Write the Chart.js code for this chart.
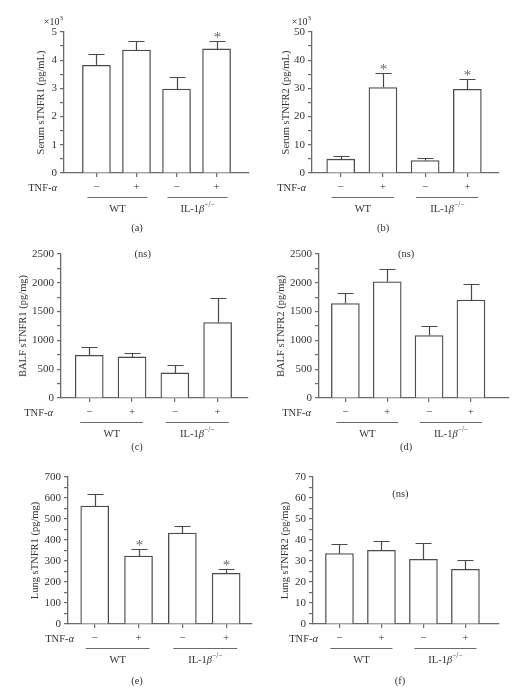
<!DOCTYPE html>
<html>
<head>
<meta charset="utf-8">
<script src="https://cdn.jsdelivr.net/npm/chart.js@4.4.1/dist/chart.umd.min.js"></script>
<style>
  body { margin: 0; background: #fff; width: 526px; height: 691px; position: relative; overflow: hidden; }
  canvas { position: absolute; }
</style>
</head>
<body>
<canvas id="pa" width="263" height="240" style="left:0;top:0"></canvas>
<canvas id="pb" width="263" height="240" style="left:263px;top:0"></canvas>
<canvas id="pc" width="263" height="240" style="left:0;top:230px"></canvas>
<canvas id="pd" width="263" height="240" style="left:263px;top:230px"></canvas>
<canvas id="pe" width="263" height="231" style="left:0;top:460px"></canvas>
<canvas id="pf" width="263" height="231" style="left:263px;top:460px"></canvas>
<script>
// categories: TNF-a treatment inside each genotype
const tnfSigns = ['−', '+', '−', '+'];
const genotypes = ['WT', 'IL-1β'];
const catPos = [1, 2, 3, 4];

// (a) serum sTNFR1 (x10^3 pg/mL)
const serumR1Mean = [3.82, 4.36, 2.98, 4.40];
const serumR1Sem = [0.39, 0.32, 0.43, 0.28];
const serumR1Star = [false, false, false, true];
const serumR1Ticks = [0, 1, 2, 3, 4, 5];

// (b) serum sTNFR2 (x10^3 pg/mL)
const serumR2Mean = [4.9, 30.3, 4.4, 29.7];
const serumR2Sem = [1.1, 5.0, 0.8, 3.7];
const serumR2Star = [false, true, false, true];
const serumR2Ticks = [0, 10, 20, 30, 40, 50];

// (c) BALF sTNFR1 (pg/mg)
const balfR1Mean = [742, 713, 435, 1311];
const balfR1Sem = [145, 70, 145, 418];
const balfR1Star = [false, false, false, false];
const balfR1Ticks = [0, 500, 1000, 1500, 2000, 2500];

// (d) BALF sTNFR2 (pg/mg)
const balfR2Mean = [1641, 2019, 1085, 1700];
const balfR2Sem = [175, 220, 162, 280];
const balfR2Star = [false, false, false, false];
const balfR2Ticks = [0, 500, 1000, 1500, 2000, 2500];

// (e) lung sTNFR1 (pg/mg)
const lungR1Mean = [562, 324, 433, 241];
const lungR1Sem = [58, 33, 35, 21];
const lungR1Star = [false, true, false, true];
const lungR1Ticks = [0, 100, 200, 300, 400, 500, 600, 700];

// (f) lung sTNFR2 (pg/mg)
const lungR2Mean = [33.5, 35.1, 30.8, 26.0];
const lungR2Sem = [4.4, 4.4, 7.9, 4.6];
const lungR2Star = [false, false, false, false];
const lungR2Ticks = [0, 10, 20, 30, 40, 50, 60, 70];

const FONT = "'Liberation Serif', 'DejaVu Serif', serif";
const INK = '#333';
const AXIS = '#6a6a6a';
const BAR = '#4a4a4a';

// draws text made of parts (italic / superscript), vertically centred on y
function richText(ctx, parts, x, y, align, size) {
    const fontOf = p => (p.it ? 'italic ' : '') + (p.sup ? size * 0.7 : size) + 'px ' + FONT;
    let w = 0;
    const widths = parts.map(p => {
        ctx.font = fontOf(p);
        const mw = ctx.measureText(p.t).width;
        w += mw;
        return mw;
    });
    let cx = align === 'center' ? x - w / 2 : (align === 'right' ? x - w : x);
    ctx.textAlign = 'left';
    ctx.textBaseline = 'middle';
    parts.forEach((p, i) => {
        ctx.font = fontOf(p);
        ctx.fillText(p.t, cx, p.sup ? y - size * 0.38 : y);
        cx += widths[i];
    });
}

const decor = {
    id: 'decor',
    afterDatasetsDraw(chart, args, o) {
        const { ctx, scales: { x, y } } = chart;
        ctx.save();
        ctx.strokeStyle = BAR;
        ctx.lineWidth = 1.2;
        o.mean.forEach((m, i) => {
            const px = Math.round(x.getPixelForValue(catPos[i])) + 0.5;
            const y0 = y.getPixelForValue(m);
            const y1 = Math.round(y.getPixelForValue(m + o.sem[i])) + 0.5;
            ctx.beginPath();
            ctx.moveTo(px, y0);
            ctx.lineTo(px, y1);
            ctx.moveTo(px - 8, y1);
            ctx.lineTo(px + 8, y1);
            ctx.stroke();
            if (o.star[i]) {
                ctx.fillStyle = '#666';
                ctx.font = '15px ' + FONT;
                ctx.textAlign = 'center';
                ctx.textBaseline = 'alphabetic';
                ctx.fillText('*', px, y1);
            }
        });
        ctx.restore();
    },
    afterDraw(chart, args, o) {
        const { ctx, chartArea: area, scales: { x, y } } = chart;
        ctx.save();
        ctx.fillStyle = INK;
        const bottom = area.bottom;
        // TNF-a row label
        richText(ctx, [{ t: 'TNF-' }, { t: 'α', it: true }], area.left + o.tnfX, bottom + 15, 'right', 10.5);
        // genotype lines and labels
        ctx.strokeStyle = AXIS;
        ctx.lineWidth = 1.2;
        genotypes.forEach((g, k) => {
            const xa = x.getPixelForValue(catPos[2 * k]) - 9;
            const xb = x.getPixelForValue(catPos[2 * k + 1]) + 11;
            ctx.beginPath();
            ctx.moveTo(xa, bottom + 24.5);
            ctx.lineTo(xb, bottom + 24.5);
            ctx.stroke();
            const parts = k === 0 ? [{ t: g }] : [{ t: 'IL-1' }, { t: 'β', it: true }, { t: '−/−', sup: true }];
            richText(ctx, parts, (xa + xb) / 2, bottom + 36, 'center', 10.5);
        });
        // panel letter
        richText(ctx, [{ t: o.letter }], o.labelXY[0], o.labelXY[1], 'center', 10.5);
        // multiplier above the axis
        if (o.exp) {
            richText(ctx, [{ t: '×10' }, { t: '3', sup: true }], area.left - 1, area.top - 10, 'right', 10);
        }
        if (o.ns) {
            richText(ctx, [{ t: '(ns)' }], x.getPixelForValue(o.ns[0]), y.getPixelForValue(o.ns[1]), 'center', 10.5);
        }
        ctx.restore();
    }
};

function makePanel(id, p) {
    const cv = document.getElementById(id);
    const W = cv.width, H = cv.height;
    const step = p.ticks[1] - p.ticks[0];
    const yMax = p.ticks[p.ticks.length - 1];
    const X_H = 22;
    new Chart(cv, {
        type: 'bar',
        data: {
            datasets: [{
                data: catPos.map((c, i) => ({ x: c, y: p.mean[i] })),
                backgroundColor: '#fff',
                borderColor: BAR,
                borderWidth: 1.3,
                borderSkipped: 'bottom',
                barThickness: 28
            }]
        },
        options: {
            responsive: false,
            animation: false,
            events: [],
            layout: { padding: { left: 0, top: p.area[2], right: W - p.area[1], bottom: H - p.area[3] - X_H } },
            plugins: {
                legend: { display: false },
                tooltip: { enabled: false },
                decor: { mean: p.mean, sem: p.sem, star: p.star, letter: p.letter, labelXY: p.labelXY, tnfX: p.tnfX, exp: p.exp, ns: p.ns }
            },
            scales: {
                x: {
                    type: 'linear',
                    min: p.xr[0],
                    max: p.xr[1],
                    offset: false,
                    afterBuildTicks: s => { s.ticks = catPos.map(v => ({ value: v })); },
                    afterFit: s => { s.height = X_H; },
                    grid: { drawOnChartArea: false, offset: false, tickLength: 4, color: AXIS, lineWidth: 1.2 },
                    border: { color: AXIS, width: 1.3 },
                    ticks: {
                        autoSkip: false,
                        maxRotation: 0,
                        padding: 4,
                        color: INK,
                        font: { family: FONT, size: 11 },
                        callback: (v, i) => tnfSigns[i]
                    }
                },
                y: {
                    min: 0,
                    max: yMax,
                    afterFit: s => { s.width = p.area[0]; },
                    grid: { drawOnChartArea: false, tickLength: 4, color: AXIS, lineWidth: 1.2 },
                    border: { color: AXIS, width: 1.3 },
                    ticks: {
                        stepSize: step / 2,
                        autoSkip: false,
                        padding: 3,
                        color: INK,
                        font: { family: FONT, size: 11 },
                        callback: v => (Math.abs(v / step - Math.round(v / step)) < 1e-6 ? String(v) : '')
                    },
                    title: {
                        display: true,
                        text: p.title,
                        color: INK,
                        font: { family: FONT, size: 10.5 },
                        padding: { top: p.titleX - 6.3, bottom: 0 }
                    }
                }
            }
        },
        plugins: [decor]
    });
}

makePanel('pa', { mean: serumR1Mean, sem: serumR1Sem, star: serumR1Star, ticks: serumR1Ticks,
    title: 'Serum sTNFR1 (pg/mL)', letter: '(a)', area: [64, 249, 32, 173], xr: [0.19, 4.81],
    titleX: 41, tnfX: -7, labelXY: [137, 228], exp: true });
makePanel('pb', { mean: serumR2Mean, sem: serumR2Sem, star: serumR2Star, ticks: serumR2Ticks,
    title: 'Serum sTNFR2 (pg/mL)', letter: '(b)', area: [49, 236, 32, 173], xr: [0.32, 4.75],
    titleX: 23, tnfX: -6, labelXY: [120, 228], exp: true });
makePanel('pc', { mean: balfR1Mean, sem: balfR1Sem, star: balfR1Star, ticks: balfR1Ticks,
    title: 'BALF sTNFR1 (pg/mg)', letter: '(c)', area: [61, 248, 24, 168], xr: [0.34, 4.71],
    titleX: 23, tnfX: -8, labelXY: [137, 217], ns: [2.25, 2500] });
makePanel('pd', { mean: balfR2Mean, sem: balfR2Sem, star: balfR2Star, ticks: balfR2Ticks,
    title: 'BALF sTNFR2 (pg/mg)', letter: '(d)', area: [56, 246, 24, 168], xr: [0.37, 4.91],
    titleX: 18, tnfX: -8, labelXY: [143, 217], ns: [2.45, 2500] });
makePanel('pe', { mean: lungR1Mean, sem: lungR1Sem, star: lungR1Star, ticks: lungR1Ticks,
    title: 'Lung sTNFR1 (pg/mg)', letter: '(e)', area: [68, 252, 17, 164], xr: [0.39, 4.59],
    titleX: 35, tnfX: 6, labelXY: [137, 221] });
makePanel('pf', { mean: lungR2Mean, sem: lungR2Sem, star: lungR2Star, ticks: lungR2Ticks,
    title: 'Lung sTNFR2 (pg/mg)', letter: '(f)', area: [50, 236, 17, 164], xr: [0.37, 4.8],
    titleX: 22, tnfX: 5, labelXY: [137, 221], ns: [2.45, 62] });
</script>
</body>
</html>
